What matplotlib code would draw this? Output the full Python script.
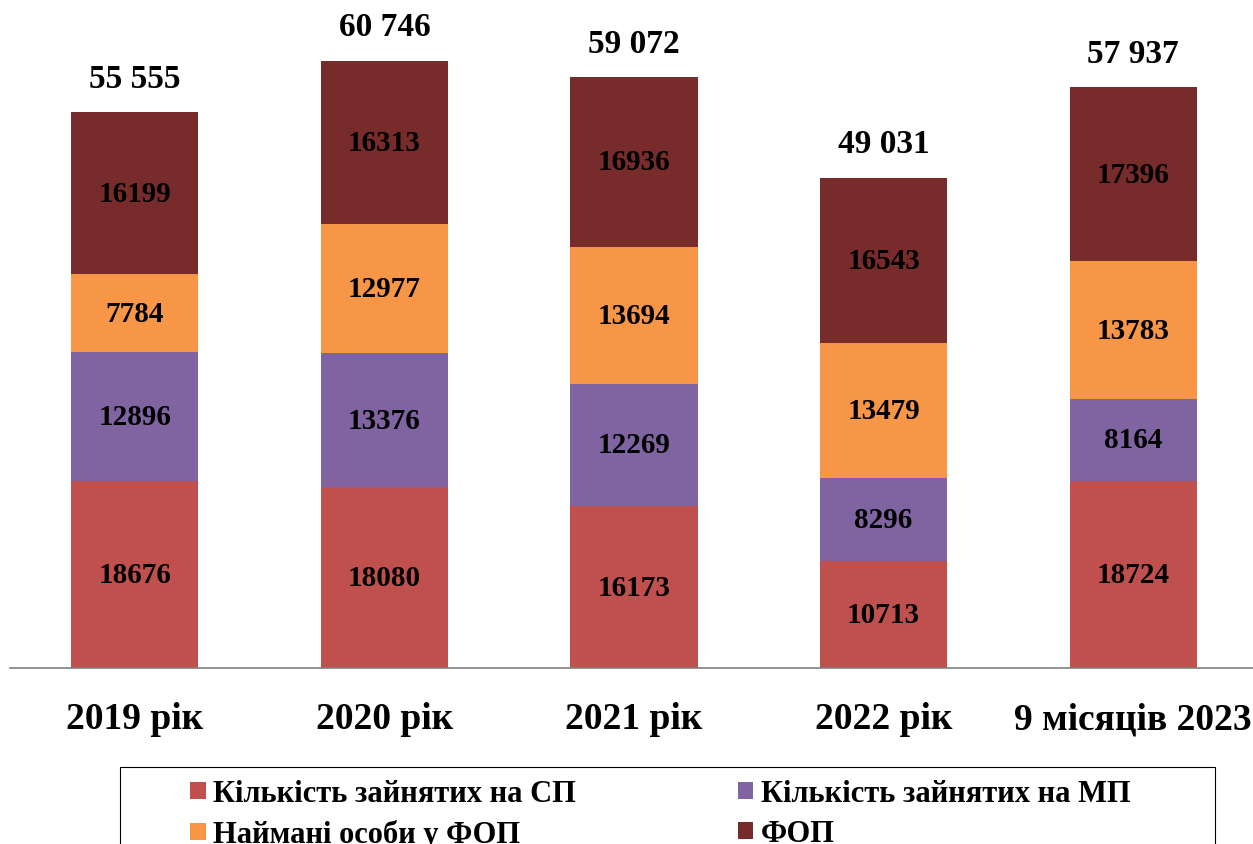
import matplotlib
matplotlib.use("Agg")
import matplotlib.pyplot as plt
from matplotlib.patches import Rectangle, Patch
import numpy as np

categories = ["2019 рік", "2020 рік", "2021 рік", "2022 рік", "9 місяців 2023"]
sp = [18676, 18080, 16173, 10713, 18724]
mp = [12896, 13376, 12269, 8296, 8164]
hired = [7784, 12977, 13694, 13479, 13783]
fop = [16199, 16313, 16936, 16543, 17396]
totals_labels = ["55 555", "60 746", "59 072", "49 031", "57 937"]

series_names = ["Кількість зайнятих на СП", "Кількість зайнятих на МП",
                "Наймані особи у ФОП", "ФОП"]
colors = ["#C0504D", "#8064A2", "#F79646", "#772B2A"]

plt.rcParams['font.family'] = ['Liberation Serif', 'DejaVu Serif']
plt.rcParams['font.weight'] = 'bold'

fig = plt.figure(figsize=(12.53, 8.45), dpi=100)
W, H = 1253, 845
ax_left = 10 / W
ax_bottom = (H - 669) / H
ax_top = (H - 9) / H
ax = fig.add_axes([ax_left, ax_bottom, 1 - ax_left, ax_top - ax_bottom])

x = np.arange(len(categories))
width = 0.51
series = [sp, mp, hired, fop]
bottom = np.zeros(len(categories))
for vals, col in zip(series, colors):
    v = np.array(vals, dtype=float)
    ax.bar(x, v, width, bottom=bottom, color=col, edgecolor='none')
    for xi, b, val in zip(x, bottom, v):
        ax.text(xi, b + val / 2, f"{int(val)}", ha='center', va='center',
                fontsize=21, fontweight='bold', color='black')
    bottom += v

for xi, tot, lab in zip(x, bottom, totals_labels):
    ax.text(xi, tot + 3400, lab, ha='center', va='center',
            fontsize=24, fontweight='bold', color='black')

ax.set_xlim(-0.5, 4.48)
ax.set_ylim(0, 66000)
ax.set_xticks(x)
ax.set_xticklabels(categories, fontsize=27, fontweight='bold')
ax.tick_params(axis='x', length=0, pad=24)
ax.set_yticks([])
for s in ['top', 'right', 'left']:
    ax.spines[s].set_visible(False)
ax.spines['bottom'].set_color('#7f7f7f')
ax.spines['bottom'].set_linewidth(1.2)

# legend box
rect = Rectangle((120 / W, -0.1), (1215 - 120) / W, (H - 768) / H + 0.1,
                 transform=fig.transFigure, facecolor='white',
                 edgecolor='black', linewidth=0.8)
fig.patches.append(rect)

handles = [Patch(facecolor=c, edgecolor='none') for c in colors]
order = [0, 2, 1, 3]
leg = fig.legend([handles[i] for i in order], [series_names[i] for i in order],
                 ncol=2, loc='upper left',
                 bbox_to_anchor=(172 / W, (H - 762) / H),
                 frameon=False,
                 prop={'family': ['Liberation Serif'], 'weight': 'bold', 'size': 22},
                 handlelength=0.5, handleheight=0.5, handletextpad=0.25,
                 columnspacing=5.3, labelspacing=0.36, borderpad=0.1)

fig.savefig("out.png", dpi=100)
